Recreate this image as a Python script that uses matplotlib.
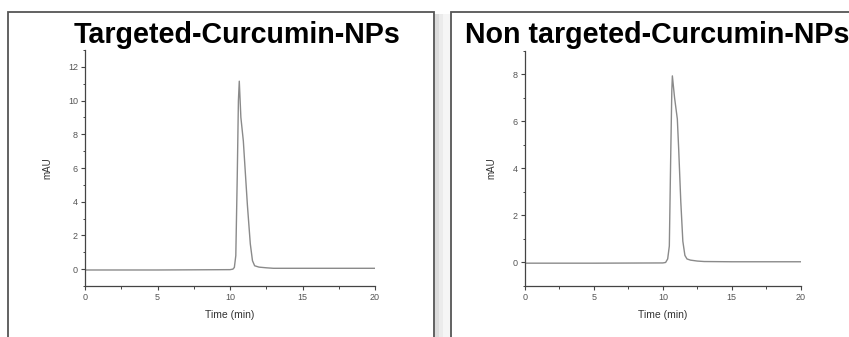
import matplotlib
matplotlib.use("Agg")
import matplotlib.pyplot as plt
from matplotlib.patches import Rectangle
from matplotlib.ticker import MultipleLocator

plt.rcParams['font.family'] = ['Liberation Sans', 'DejaVu Sans']

# ---- data ----
titles = ["Targeted-Curcumin-NPs", "Non targeted-Curcumin-NPs"]
xlabel = "Time (min)"
ylabel = "mAU"

t_targeted = [0, 5, 10, 10.2, 10.3, 10.4, 10.5, 10.58, 10.64, 10.75, 10.92, 11.0,
              11.2, 11.4, 11.55, 11.7, 12.0, 12.5, 13, 15, 20]
v_targeted = [-0.05, -0.05, -0.03, 0.0, 0.1, 0.8, 5.5, 10.0, 11.15, 9.0, 7.6, 6.5,
              3.8, 1.5, 0.5, 0.2, 0.12, 0.08, 0.05, 0.05, 0.05]

t_nontargeted = [0, 5, 10, 10.2, 10.35, 10.47, 10.57, 10.65, 10.69, 10.85, 11.05, 11.15,
                 11.3, 11.45, 11.6, 11.75, 12.0, 12.5, 13, 15, 20]
v_nontargeted = [-0.03, -0.03, -0.02, 0.0, 0.15, 0.7, 4.5, 7.3, 7.93, 7.0, 6.1, 4.8,
                 2.6, 0.9, 0.3, 0.15, 0.1, 0.06, 0.04, 0.03, 0.03]

x_ticks = [0, 5, 10, 15, 20]
y_ticks_left = [0, 2, 4, 6, 8, 10, 12]
y_ticks_right = [0, 2, 4, 6, 8]
ylim_left = (-1, 13)
ylim_right = (-1, 9)

W, H = 849, 337
fig = plt.figure(figsize=(W / 100, H / 100), dpi=100)
fig.patch.set_facecolor("white")

def fx(px):
    return px / W

def fy(py):
    return 1 - py / H

# framed panels (drawn beneath the axes), with a soft shadow band between them
for x0, w, col in [(435, 4, "#dcdcdc"), (439, 4, "#ebebeb"), (443, 7, "#f5f5f5")]:
    fig.patches.append(Rectangle((fx(x0), fy(345)), fx(w), fy(14) - fy(345),
                                 transform=fig.transFigure, facecolor=col,
                                 edgecolor="none", zorder=-3))
for x0, x1, y0 in [(8, 434, 12), (451, 870, 12)]:
    fig.patches.append(Rectangle((fx(x0), fy(345)), fx(x1 - x0), fy(y0) - fy(345),
                                 transform=fig.transFigure, facecolor="white",
                                 edgecolor="#555555", linewidth=1.3, zorder=-2))

panels = [
    dict(x0=85, x1=375, top=50, t=t_targeted, v=v_targeted, yt=y_ticks_left,
         ylim=ylim_left, title=titles[0], tx=237, ha="center", lab_x=47),
    dict(x0=525, x1=800.7, top=50.7, t=t_nontargeted, v=v_nontargeted, yt=y_ticks_right,
         ylim=ylim_right, title=titles[1], tx=465, ha="left", lab_x=491.7),
]

bottom_px = 286
axis_col = "#444444"
text_col = "#555555"

for p in panels:
    ax = fig.add_axes([fx(p["x0"]), fy(bottom_px), fx(p["x1"] - p["x0"]),
                       fy(p["top"]) - fy(bottom_px)])
    ax.patch.set_alpha(0)
    ax.plot(p["t"], p["v"], color="#8a8a8a", linewidth=1.0)
    ax.set_xlim(0, 20)
    ax.set_ylim(*p["ylim"])
    ax.set_xticks(x_ticks)
    ax.set_yticks(p["yt"])
    ax.xaxis.set_minor_locator(MultipleLocator(2.5))
    ax.yaxis.set_minor_locator(MultipleLocator(1))
    for s in ["top", "right"]:
        ax.spines[s].set_visible(False)
    for s in ["left", "bottom"]:
        ax.spines[s].set_color(axis_col)
        ax.spines[s].set_linewidth(0.9)
    ax.tick_params(which="major", length=3, width=0.8, color=axis_col,
                   labelsize=6.5, labelcolor=text_col, pad=2)
    ax.tick_params(which="minor", length=1.8, width=0.7, color=axis_col)
    ax.set_xlabel(xlabel, fontsize=7.5, color="#333333")
    ax.set_ylabel(ylabel, fontsize=7, color="#333333")
    ax.xaxis.set_label_coords(0.5, (bottom_px - 315) / (bottom_px - p["top"]))
    ax.xaxis.label.set_va("center")
    ax.yaxis.set_label_coords((p["lab_x"] - p["x0"]) / (p["x1"] - p["x0"]), 0.5)
    ax.yaxis.label.set_va("center")
    fig.text(fx(p["tx"]), fy(43), p["title"], ha=p["ha"], va="baseline",
             fontsize=20.6, fontweight="bold", color="black")

fig.savefig("out.png", dpi=100, facecolor="white")
